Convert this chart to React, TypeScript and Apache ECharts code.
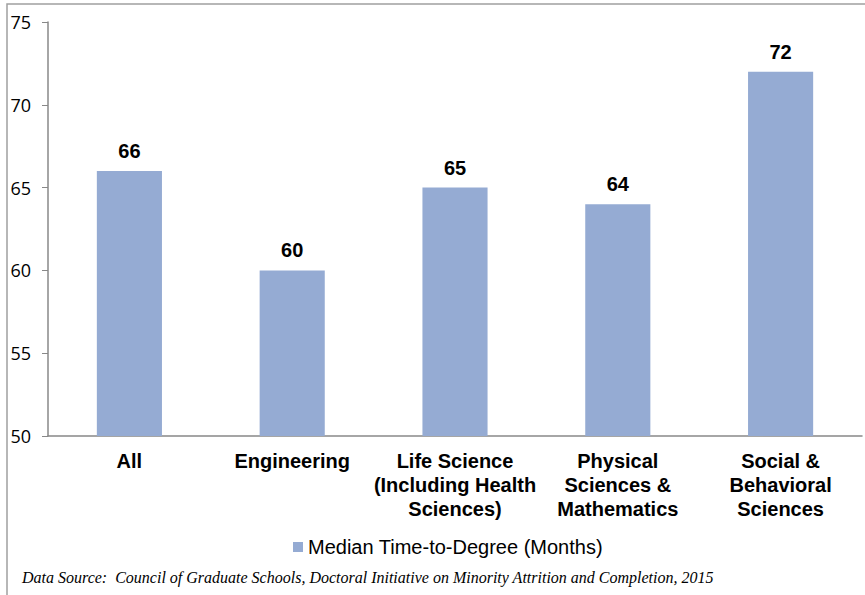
import React, { useEffect, useRef } from "react";
import * as echarts from "echarts";

const categories = [
  "All",
  "Engineering",
  "Life Science\n(Including Health\nSciences)",
  "Physical\nSciences &\nMathematics",
  "Social &\nBehavioral\nSciences",
];
const values = [66, 60, 65, 64, 72];
const seriesName = "Median Time-to-Degree (Months)";
const sourceNote =
  "Data Source:  Council of Graduate Schools, Doctoral Initiative on Minority Attrition and Completion, 2015";

export default function App() {
  const ref = useRef<HTMLDivElement>(null);
  useEffect(() => {
    document.body.style.margin = "0";
    const chart = echarts.init(ref.current!, null, { renderer: "svg" });
    chart.setOption({
      animation: false,
      backgroundColor: "#ffffff",
      grid: { left: 48, right: 3, top: 22, bottom: 159, containLabel: false },
      legend: {
        data: [seriesName],
        bottom: 33,
        left: 288,
        icon: "rect",
        itemWidth: 10,
        itemHeight: 10,
        itemGap: 5,
        textStyle: { fontFamily: "Liberation Sans, Arial", fontSize: 20, color: "#000" },
      },
      xAxis: {
        type: "category",
        data: categories,
        axisLine: { lineStyle: { color: "#888", width: 1.5 } },
        axisTick: { show: false },
        axisLabel: {
          interval: 0,
          margin: 13,
          fontFamily: "Liberation Sans, Arial",
          fontWeight: "bold",
          fontSize: 20,
          lineHeight: 24,
          color: "#000",
        },
      },
      yAxis: {
        type: "value",
        min: 50,
        max: 75,
        interval: 5,
        splitLine: { show: false },
        axisLine: { show: true, lineStyle: { color: "#888", width: 1.5 } },
        axisTick: { show: true, length: 6, lineStyle: { color: "#888" } },
        axisLabel: {
          margin: 17,
          fontFamily: "Open Sans, Liberation Sans, Arial",
          fontSize: 18,
          color: "#000",
        },
      },
      series: [
        {
          name: seriesName,
          type: "bar",
          data: values,
          barWidth: "40%",
          itemStyle: { color: "#95abd3" },
          label: {
            show: true,
            position: "top",
            distance: 10,
            fontFamily: "Liberation Sans, Arial",
            fontWeight: "bold",
            fontSize: 20,
            color: "#000",
          },
        },
      ],
      graphic: [
        {
          type: "rect",
          shape: { x: 7, y: 4, width: 900, height: 640 },
          style: { fill: "none", stroke: "#a0a0a0", lineWidth: 1.5 },
          silent: true,
        },
        {
          type: "text",
          left: 22,
          top: 569,
          style: {
            text: sourceNote,
            font: "italic 16px 'Liberation Serif', 'Times New Roman', serif",
            fill: "#000",
          },
        },
      ],
    });
    return () => chart.dispose();
  }, []);
  return <div ref={ref} style={{ width: 865, height: 595 }} />;
}
